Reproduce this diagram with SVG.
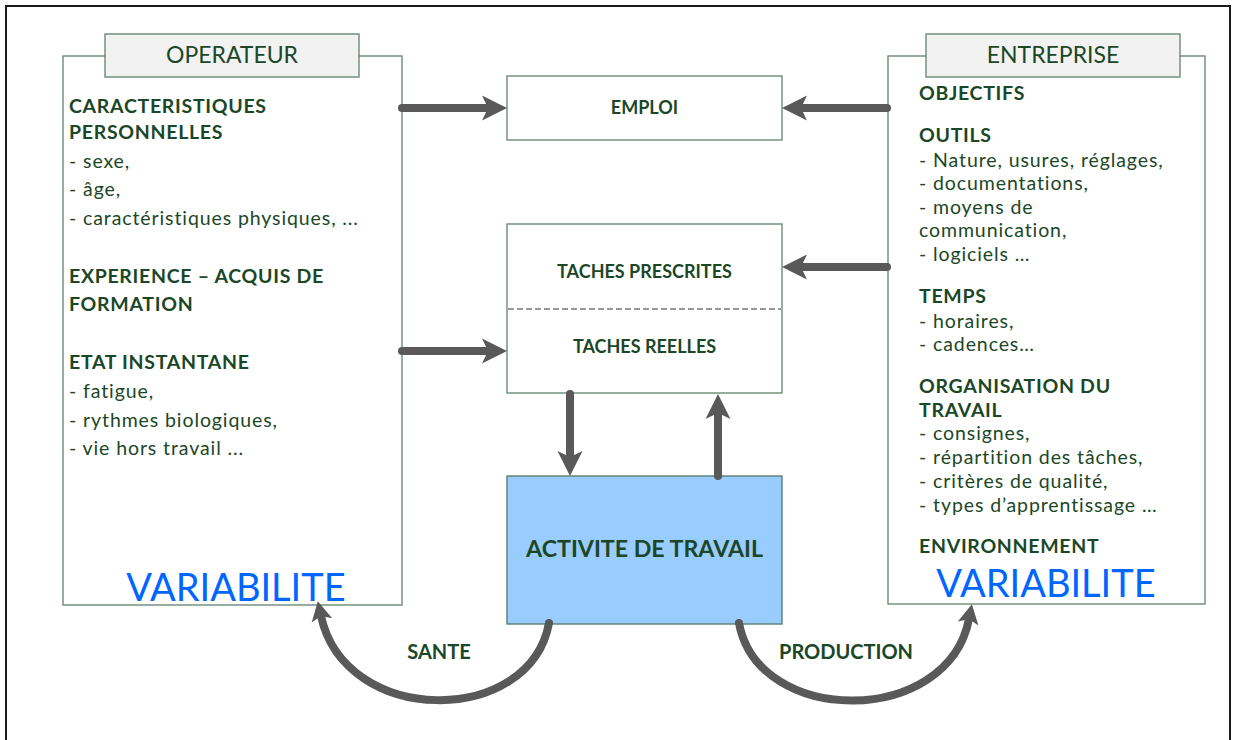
<svg xmlns="http://www.w3.org/2000/svg" width="1234" height="740" viewBox="0 0 1234 740">
  <defs>
    <style>
      .frame { fill: none; stroke: #1a1a1a; stroke-width: 2; }
      .panel { fill: #ffffff; stroke: #6b8a77; stroke-width: 1.4; }
      .tab { fill: #f2f2f2; stroke: #6b8a77; stroke-width: 1.4; }
      .box { fill: #ffffff; stroke: #6b8a77; stroke-width: 1.4; }
      .activity { fill: #99ccff; stroke: #5a7f72; stroke-width: 1.4; }
      .sep { stroke: #333333; stroke-width: 1.2; stroke-dasharray: 6 3; }
      .link { fill: none; stroke: #595959; stroke-width: 8; stroke-linecap: round; }
      text { font-family: Lato, "Liberation Sans", sans-serif; fill: #1b4727; }
      .title { font-size: 23px; text-anchor: middle; }
      .head { font-size: 19.5px; font-weight: bold; letter-spacing: 0.7px; }
      .item { font-size: 19.5px; letter-spacing: 0.9px; }
      .label { font-size: 18px; font-weight: bold; text-anchor: middle; }
      .flow { font-size: 20px; font-weight: bold; text-anchor: middle; }
      .main { font-size: 23.2px; font-weight: bold; text-anchor: middle; }
      .var { font-size: 38px; fill: #0066ff; text-anchor: middle; }
    </style>
    <marker id="head" markerUnits="userSpaceOnUse" viewBox="-8 -14 30 28" markerWidth="30" markerHeight="28" refX="0" refY="0" orient="auto" overflow="visible">
      <path d="M-6,-12.5 L19,0 L-6,12.5 L0,0 Z" fill="#595959"/>
    </marker>
    <marker id="head-sm" markerUnits="userSpaceOnUse" viewBox="-8 -12 26 24" markerWidth="26" markerHeight="24" refX="0" refY="0" orient="auto" overflow="visible">
      <path d="M-4.5,-10.5 L15,0 L-4.5,10.5 L0,0 Z" fill="#595959"/>
    </marker>
  </defs>

  <rect x="0" y="0" width="1234" height="740" fill="#ffffff"/>
  <rect class="frame" x="6" y="6" width="1224" height="760"/>

  <!-- worker side -->
  <g id="operateur">
    <rect class="panel" x="63" y="56" width="339" height="549"/>
    <rect class="tab" x="105" y="34" width="254" height="43"/>
    <text class="title" x="232" y="63">OPERATEUR</text>
    <text>
      <tspan class="head" x="69" y="113">CARACTERISTIQUES</tspan>
      <tspan class="head" x="69" y="139">PERSONNELLES</tspan>
      <tspan class="item" x="69" y="168">- sexe,</tspan>
      <tspan class="item" x="69" y="196">- âge,</tspan>
      <tspan class="item" x="69" y="225">- caractéristiques physiques, ...</tspan>
    </text>
    <text>
      <tspan class="head" x="69" y="283">EXPERIENCE – ACQUIS DE</tspan>
      <tspan class="head" x="69" y="311">FORMATION</tspan>
    </text>
    <text>
      <tspan class="head" x="69" y="369">ETAT INSTANTANE</tspan>
      <tspan class="item" x="69" y="398">- fatigue,</tspan>
      <tspan class="item" x="69" y="427">- rythmes biologiques,</tspan>
      <tspan class="item" x="69" y="455">- vie hors travail ...</tspan>
    </text>
    <text class="var" x="236" y="601">VARIABILITE</text>
  </g>

  <!-- company side -->
  <g id="entreprise">
    <rect class="panel" x="888" y="56" width="317" height="548"/>
    <rect class="tab" x="926" y="34" width="254" height="43"/>
    <text class="title" x="1053" y="63">ENTREPRISE</text>
    <text>
      <tspan class="head" x="919" y="100">OBJECTIFS</tspan>
      <tspan class="head" x="919" y="142">OUTILS</tspan>
      <tspan class="item" x="919" y="166.5">- Nature, usures, réglages,</tspan>
      <tspan class="item" x="919" y="190">- documentations,</tspan>
      <tspan class="item" x="919" y="213.5">- moyens de</tspan>
      <tspan class="item" x="919" y="237">communication,</tspan>
      <tspan class="item" x="919" y="260.5">- logiciels …</tspan>
      <tspan class="head" x="919" y="303">TEMPS</tspan>
      <tspan class="item" x="919" y="327.5">- horaires,</tspan>
      <tspan class="item" x="919" y="351">- cadences…</tspan>
      <tspan class="head" x="919" y="393">ORGANISATION DU</tspan>
      <tspan class="head" x="919" y="416.5">TRAVAIL</tspan>
      <tspan class="item" x="919" y="440">- consignes,</tspan>
      <tspan class="item" x="919" y="464">- répartition des tâches,</tspan>
      <tspan class="item" x="919" y="488">- critères de qualité,</tspan>
      <tspan class="item" x="919" y="512">- types d’apprentissage …</tspan>
      <tspan class="head" x="919" y="553">ENVIRONNEMENT</tspan>
    </text>
    <text class="var" x="1046" y="597">VARIABILITE</text>
  </g>

  <g id="emploi">
    <rect class="box" x="507" y="76" width="275" height="64"/>
    <text class="label" x="644.5" y="114">EMPLOI</text>
  </g>

  <g id="taches">
    <rect class="box" x="507" y="224" width="275" height="169"/>
    <line class="sep" x1="508" y1="309" x2="781" y2="309"/>
    <text class="label" x="644.5" y="278">TACHES PRESCRITES</text>
    <text class="label" x="644.5" y="353">TACHES REELLES</text>
  </g>

  <g id="activite">
    <rect class="activity" x="507" y="476" width="275" height="148"/>
    <text class="main" x="644.5" y="557">ACTIVITE DE TRAVAIL</text>
  </g>

  <!-- connectors -->
  <g id="connectors">
    <path class="link" d="M402,108 L488,108" marker-end="url(#head)"/>
    <path class="link" d="M887,108 L801,108" marker-end="url(#head)"/>
    <path class="link" d="M887,267 L801,267" marker-end="url(#head)"/>
    <path class="link" d="M402,351 L488,351" marker-end="url(#head)"/>
    <path class="link" d="M570,394 L570,457" marker-end="url(#head)"/>
    <path class="link" d="M718,476 L718,413" marker-end="url(#head)"/>
    <path class="link" d="M549,623 C530,727 345,727 321,616" marker-end="url(#head-sm)"/>
    <path class="link" d="M739,623 C758,727 948,727 969,619" marker-end="url(#head-sm)"/>
    <text class="flow" x="439" y="659">SANTE</text>
    <text class="flow" x="846" y="659">PRODUCTION</text>
  </g>
</svg>
